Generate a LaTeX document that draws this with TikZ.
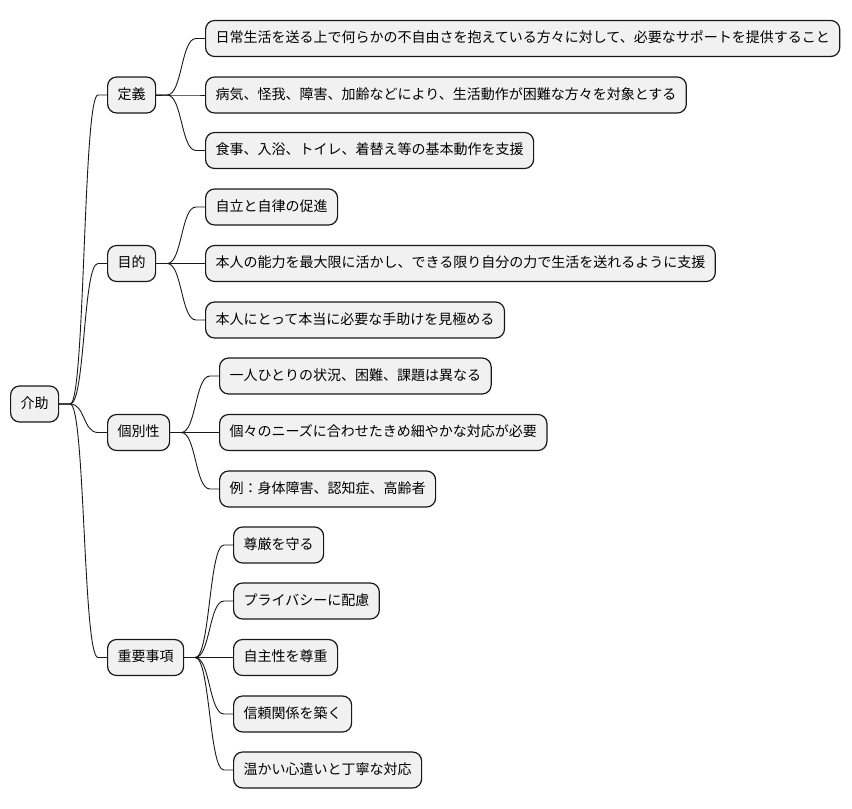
\documentclass[tikz,border=0pt]{standalone}
\usepackage{fontspec}
\setmainfont{Noto Sans CJK JP}
\usetikzlibrary{calc}
\definecolor{boxfill}{HTML}{F1F1F1}
\definecolor{boxline}{HTML}{181818}
\tikzset{
  mmbox/.style={draw=boxline, fill=boxfill, line width=1.2pt, rounded corners=9pt,
    anchor=west, minimum height=36pt, inner xsep=10pt, inner ysep=0pt,
    text height=11pt, text depth=3pt, font=\fontsize{14pt}{16pt}\selectfont},
  mmline/.style={draw=boxline, line width=0.9pt}
}
\newcommand\mmconn[2]{\draw[mmline] (#1.east) -- ++(11,0) .. controls +(15,0) and +(-15,0) .. ($(#2.west)+(-9,0)$) -- (#2.west);}
\begin{document}
\begin{tikzpicture}[x=1pt,y=-1pt]
\useasboundingbox (0,0) rectangle (852,809);
\node[mmbox] (root) at (10,404) {介助};
% level 1
\node[mmbox] (def) at (107,95) {定義};
\node[mmbox] (pur) at (107,263.5) {目的};
\node[mmbox] (ind) at (107,432.5) {個別性};
\node[mmbox] (imp) at (107,657.5) {重要事項};
% 定義
\node[mmbox] (d1) at (205,38.5) {日常生活を送る上で何らかの不自由さを抱えている方々に対して、必要なサポートを提供すること};
\node[mmbox] (d2) at (205,95) {病気、怪我、障害、加齢などにより、生活動作が困難な方々を対象とする};
\node[mmbox] (d3) at (205,150.5) {食事、入浴、トイレ、着替え等の基本動作を支援};
% 目的
\node[mmbox] (p1) at (205,207) {自立と自律の促進};
\node[mmbox] (p2) at (205,263.5) {本人の能力を最大限に活かし、できる限り自分の力で生活を送れるように支援};
\node[mmbox] (p3) at (205,320) {本人にとって本当に必要な手助けを見極める};
% 個別性
\node[mmbox] (i1) at (219,376) {一人ひとりの状況、困難、課題は異なる};
\node[mmbox] (i2) at (219,432.5) {個々のニーズに合わせたきめ細やかな対応が必要};
\node[mmbox] (i3) at (219,489) {例：身体障害、認知症、高齢者};
% 重要事項
\node[mmbox] (m1) at (233,545) {尊厳を守る};
\node[mmbox] (m2) at (233,601) {プライバシーに配慮};
\node[mmbox] (m3) at (233,657.5) {自主性を尊重};
\node[mmbox] (m4) at (233,714) {信頼関係を築く};
\node[mmbox] (m5) at (233,770) {温かい心遣いと丁寧な対応};
% connectors
\mmconn{root}{def}
\mmconn{root}{pur}
\mmconn{root}{ind}
\mmconn{root}{imp}
\mmconn{def}{d1}
\mmconn{def}{d2}
\mmconn{def}{d3}
\mmconn{pur}{p1}
\mmconn{pur}{p2}
\mmconn{pur}{p3}
\mmconn{ind}{i1}
\mmconn{ind}{i2}
\mmconn{ind}{i3}
\mmconn{imp}{m1}
\mmconn{imp}{m2}
\mmconn{imp}{m3}
\mmconn{imp}{m4}
\mmconn{imp}{m5}
\end{tikzpicture}
\end{document}
